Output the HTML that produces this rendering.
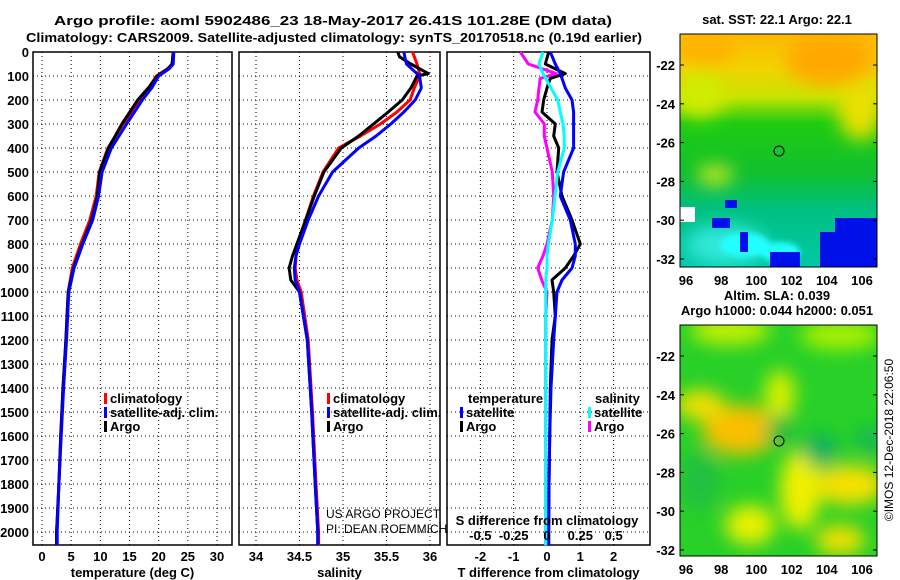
<!DOCTYPE html>
<html><head><meta charset="utf-8"><style>
body{margin:0;background:#fff;}
svg{display:block;font-family:"Liberation Sans",sans-serif;}
.b{font-weight:bold;font-size:13px;}
</style></head><body>
<svg id="s" width="900" height="580" viewBox="0 0 900 580">
<defs>
<filter id="bl" x="-50%" y="-50%" width="200%" height="200%"><feGaussianBlur stdDeviation="9"/></filter>
<filter id="bl2" x="-50%" y="-50%" width="200%" height="200%"><feGaussianBlur stdDeviation="3"/></filter>
<clipPath id="c1"><rect x="680" y="34" width="197" height="233"/></clipPath>
<clipPath id="c2"><rect x="680" y="325" width="197" height="231"/></clipPath>
<linearGradient id="sstg" x1="0" y1="0" x2="0" y2="1">
<stop offset="0" stop-color="#ffb800"/>
<stop offset="0.15" stop-color="#f0d400"/>
<stop offset="0.27" stop-color="#c8e400"/>
<stop offset="0.38" stop-color="#20cc10"/>
<stop offset="0.6" stop-color="#10c030"/>
<stop offset="0.75" stop-color="#00c080"/>
<stop offset="1" stop-color="#00c8a8"/>
</linearGradient>
</defs>
<text x="333" y="25" text-anchor="middle" class="b" font-size="14" textLength="558" lengthAdjust="spacingAndGlyphs">Argo profile: aoml 5902486_23 18-May-2017 26.41S 101.28E (DM data)</text>
<text x="334" y="42" text-anchor="middle" class="b" font-size="14" textLength="616" lengthAdjust="spacingAndGlyphs">Climatology: CARS2009. Satellite-adjusted climatology: synTS_20170518.nc (0.19d earlier)</text>
<g id="plots"></g>
<!-- top map -->
<g clip-path="url(#c1)">
<rect x="680" y="34" width="197" height="233" fill="url(#sstg)"/>
<g filter="url(#bl)">
<ellipse cx="830" cy="60" rx="45" ry="25" fill="#ffa800"/>
<ellipse cx="705" cy="50" rx="30" ry="14" fill="#ffb000"/>
<ellipse cx="860" cy="110" rx="22" ry="30" fill="#e8e000"/>
<ellipse cx="700" cy="95" rx="25" ry="22" fill="#d0ec00"/>
<ellipse cx="715" cy="175" rx="18" ry="10" fill="#c8e820"/>
<ellipse cx="725" cy="245" rx="40" ry="20" fill="#30e8d8"/>
</g>
<g filter="url(#bl2)">
<ellipse cx="745" cy="245" rx="25" ry="12" fill="#20ffff"/>
<ellipse cx="780" cy="252" rx="20" ry="10" fill="#20ffff"/>
</g>
<rect x="835" y="218" width="42" height="49" fill="#0010e8"/>
<rect x="820" y="232" width="20" height="35" fill="#0010e8"/>
<rect x="712" y="218" width="18" height="10" fill="#0010e8"/>
<rect x="770" y="252" width="30" height="15" fill="#0010e8"/>
<rect x="740" y="232" width="8" height="20" fill="#0010e8"/>
<rect x="680" y="207" width="15" height="15" fill="#fff"/>
<rect x="725" y="200" width="12" height="8" fill="#0010e8"/>
</g>
<circle cx="779" cy="151" r="5" fill="none" stroke="#000"/>
<rect x="680" y="34" width="197" height="233" fill="none" stroke="#000"/>
<text x="777" y="24" text-anchor="middle" class="b" font-size="12">sat. SST: 22.1 Argo: 22.1</text>
<!-- bottom map -->
<g clip-path="url(#c2)">
<rect x="680" y="325" width="197" height="231" fill="#28d028"/>
<g filter="url(#bl)">
<ellipse cx="730" cy="330" rx="40" ry="15" fill="#c0f000"/>
<ellipse cx="840" cy="335" rx="40" ry="15" fill="#a8f000"/>
<ellipse cx="740" cy="430" rx="38" ry="25" fill="#f8c000"/>
<ellipse cx="700" cy="405" rx="25" ry="15" fill="#f0e000"/>
<ellipse cx="780" cy="395" rx="15" ry="25" fill="#d8f000"/>
<ellipse cx="800" cy="490" rx="20" ry="40" fill="#f0f000"/>
<ellipse cx="850" cy="485" rx="35" ry="20" fill="#f8e000"/>
<ellipse cx="750" cy="525" rx="25" ry="20" fill="#e8f000"/>
<ellipse cx="840" cy="540" rx="25" ry="15" fill="#f0e000"/>
<ellipse cx="820" cy="450" rx="18" ry="16" fill="#10b060"/>
<ellipse cx="780" cy="430" rx="14" ry="14" fill="#10b840"/>
<ellipse cx="700" cy="480" rx="20" ry="30" fill="#20c040"/>
<ellipse cx="870" cy="440" rx="12" ry="12" fill="#10b060"/>
</g>
</g>
<circle cx="779" cy="441" r="5" fill="none" stroke="#000"/>
<rect x="680" y="325" width="197" height="231" fill="none" stroke="#000"/>
<text x="777" y="300" text-anchor="middle" class="b" font-size="12">Altim. SLA: 0.039</text>
<text x="777" y="315" text-anchor="middle" class="b" font-size="12">Argo h1000: 0.044 h2000: 0.051</text>
<text transform="translate(893,440) rotate(-90)" text-anchor="middle" font-size="12">©IMOS 12-Dec-2018 22:06:50</text>
<g id="maps"></g>
</svg>
<script>
const NS='http://www.w3.org/2000/svg';
const svg=document.getElementById('plots');
const mapsG=document.getElementById('maps');
function el(tag,attrs,parent,txt){const e=document.createElementNS(NS,tag);for(const k in attrs)e.setAttribute(k,attrs[k]);if(txt!==undefined)e.textContent=txt;(parent||svg).appendChild(e);return e;}

const depthTicks=[0,100,200,300,400,500,600,700,800,900,1000,1100,1200,1300,1400,1500,1600,1700,1800,1900,2000];
const tempTicks=[0,5,10,15,20,25,30];
const salTicks=[34,34.5,35,35.5,36];
const tdiffTicks=[-2,-1,0,1,2];
const sdiffTickLabels=['-0.5','-0.25','0','0.25','0.5'];
const sdiffTicks=[-0.5,-0.25,0,0.25,0.5];

const tDepth=[0,50,70,100,150,200,300,400,500,600,700,800,900,1000,1200,1400,1600,1800,2000,2055];
const tClim=[22.5,22.3,21.5,19.6,18.3,16.7,13.9,11.3,9.8,9.3,8.2,6.6,5.2,4.5,4.1,3.6,3.2,2.9,2.5,2.5];
const tSat=[22.6,22.5,21.8,20.0,18.8,17.2,14.5,11.9,10.3,9.7,8.7,7.0,5.5,4.6,4.2,3.7,3.3,2.9,2.6,2.6];
const tArgo=[22.5,22.3,21.6,19.8,18.2,16.4,13.7,11.4,9.9,9.5,8.5,6.9,5.4,4.5,4.1,3.6,3.2,2.9,2.5,2.5];

const sDepth=[0,20,50,90,100,150,200,250,300,350,400,500,600,700,800,850,900,950,1000,1200,1500,1800,2000,2055];
const sClim=[35.80,35.82,35.85,35.88,35.88,35.82,35.77,35.62,35.43,35.2,34.95,34.77,34.66,34.57,34.48,34.46,34.45,34.47,34.52,34.6,34.65,34.69,34.72,34.72];
const sSat=[35.70,35.71,35.73,35.85,35.88,35.9,35.83,35.7,35.55,35.38,35.18,34.88,34.72,34.6,34.5,34.46,34.44,34.45,34.5,34.59,34.64,34.68,34.71,34.71];
const sArgo=[35.63,35.65,35.78,35.98,35.85,35.78,35.68,35.52,35.35,35.18,34.98,34.78,34.67,34.57,34.47,34.42,34.38,34.40,34.5,34.59,34.64,34.68,34.71,34.71];

const dDepth=[0,50,90,110,150,200,250,300,350,400,500,600,700,800,850,900,950,1000,1100,1200,1400,1600,1800,2000,2055];
const dtSat=[0.1,0.25,0.4,0.45,0.55,0.75,0.8,0.8,0.8,0.8,0.5,0.4,0.7,0.85,0.85,0.75,0.45,0.3,0.25,0.2,0.12,0.08,0.06,0.05,0.05];
const dtArgo=[0.05,-0.05,0.55,0.1,0.0,-0.1,-0.15,0.25,0.2,0.35,0.3,0.45,0.75,1.0,0.8,0.55,0.15,0.2,0.25,0.15,0.1,0.08,0.06,0.05,0.05];
const dsSat=[-0.03,-0.06,-0.03,-0.01,0.03,0.08,0.1,0.12,0.13,0.13,0.08,0.06,0.04,0.01,0.0,0.0,-0.01,-0.01,-0.01,-0.01,-0.01,-0.01,-0.01,-0.01,-0.01];
const dsArgo=[-0.2,-0.14,0.07,-0.05,-0.06,-0.07,-0.09,-0.02,-0.02,0.0,0.04,0.05,0.04,0.0,-0.03,-0.07,-0.04,0.0,-0.01,-0.01,-0.01,-0.01,-0.01,-0.01,-0.01];

const yTop=52, ppd=0.24;
function yS(d){return yTop+d*ppd;}
const panels=[
 {name:'temperature',x0:33,x1:232,fx:v=>42+v*5.833,ticks:tempTicks,labels:tempTicks.map(String),title:'temperature (deg C)'},
 {name:'salinity',x0:239,x1:440,fx:v=>256+(v-34)*87,ticks:salTicks,labels:salTicks.map(String),title:'salinity'},
 {name:'difference',x0:447,x1:650,fx:v=>547+v*33.3,ticks:tdiffTicks,labels:tdiffTicks.map(String),title:'T difference from climatology'}
];
const yBot=545;
panels.forEach((p,i)=>{
  const g=el('g',{});
  
  
  p.ticks.forEach((t,j)=>{
    const x=p.fx(t);
    const l=el('line',{x1:x,x2:x,y1:yTop,y2:yBot,stroke:'#000','stroke-dasharray':'1 3'},g);
    
    const tx=el('text',{x:x,y:561,'text-anchor':'middle',class:'b'},g,p.labels[j]);
    
  });
  depthTicks.forEach(d=>{
    const y=yS(d);
    const l=el('line',{x1:p.x0,x2:p.x1,y1:y,y2:y,stroke:'#000','stroke-dasharray':'1 3'},g);
    
    if(i===0){const tx=el('text',{x:29,y:y+5,'text-anchor':'end',class:'b'},g,String(d));
      }
  });
  const r=el('rect',{x:p.x0,y:yTop,width:p.x1-p.x0,height:yBot-yTop,fill:'none',stroke:'#000','stroke-width':1.5},g);
  
  const at=el('text',{x:(p.x0+p.x1)/2,y:577,'text-anchor':'middle',class:'b'},g,p.title);
  
});
function line(depths,vals,fx,color,name){
  let d='';
  depths.forEach((dd,k)=>{d+=(k?'L':'M')+fx(vals[k]).toFixed(1)+' '+yS(dd).toFixed(1);});
  const p=el('path',{d:d,fill:'none',stroke:color,'stroke-width':3,'stroke-linejoin':'round'});
  
  
}
const P=panels;
line(tDepth,tClim,P[0].fx,'#f00','temperature-climatology-line');
line(tDepth,tArgo,P[0].fx,'#000','temperature-argo-line');
line(tDepth,tSat,P[0].fx,'#00f','temperature-satellite-line');
line(sDepth,sClim,P[1].fx,'#f00','salinity-climatology-line');
line(sDepth,sArgo,P[1].fx,'#000','salinity-argo-line');
line(sDepth,sSat,P[1].fx,'#00f','salinity-satellite-line');
const fS=v=>547+v*133.3;
line(dDepth,dsArgo,fS,'#f0f','sdiff-argo-line');
line(dDepth,dtArgo,P[2].fx,'#000','tdiff-argo-line');
line(dDepth,dtSat,P[2].fx,'#00f','tdiff-satellite-line');
line(dDepth,dsSat,fS,'#0ff','sdiff-satellite-line');

sdiffTicks.forEach((t,j)=>{
  const tx=el('text',{x:fS(t),y:540,'text-anchor':'middle',class:'b'},svg,sdiffTickLabels[j]);
  
});
const st=el('text',{x:547,y:525,'text-anchor':'middle',class:'b'},svg,'S difference from climatology');


function legend(x,y,color,label){
  const m=el('rect',{x:x,y:y-10,width:3,height:11,fill:color});
  
  const t=el('text',{x:x+6,y:y,class:'b','font-size':'12'},svg,label);
  
}
legend(104,403,'#f00','climatology');legend(104,417,'#00f','satellite-adj. clim.');legend(104,431,'#000','Argo');
legend(327,403,'#f00','climatology');legend(327,417,'#00f','satellite-adj. clim.');legend(327,431,'#000','Argo');
const lt=el('text',{x:468,y:403,class:'b','font-size':'12'},svg,'temperature');

legend(460,417,'#00f','satellite');legend(460,431,'#000','Argo');
const ls=el('text',{x:595,y:403,class:'b','font-size':'12'},svg,'salinity');

legend(588,417,'#0ff','satellite');legend(588,431,'#f0f','Argo');
const c1=el('text',{x:326,y:518,'font-size':'12'},svg,'US ARGO PROJECT');

const c2=el('text',{x:326,y:533,'font-size':'12'},svg,'PI: DEAN ROEMMICH');


const lats=[-22,-24,-26,-28,-30,-32];
const lons=[96,98,100,102,104,106];
function mapAxes(yLat22,ppLat,yBottom){
  lats.forEach(l=>{
    const y=yLat22+(-22-l)*ppLat;
    const t=el('text',{x:675,y:y+5,'text-anchor':'end',class:'b'},mapsG,String(l));
    
    el('line',{x1:680,x2:684,y1:y,y2:y,stroke:'#000'},mapsG);
    el('line',{x1:873,x2:877,y1:y,y2:y,stroke:'#000'},mapsG);
  });
  lons.forEach(l=>{
    const x=686+(l-96)*17.6;
    const t=el('text',{x:x,y:yBottom+18,'text-anchor':'middle',class:'b'},mapsG,String(l));
    
  });
}
mapAxes(65,19.4,267);
mapAxes(356,19.4,556);
</script>
</body></html>
